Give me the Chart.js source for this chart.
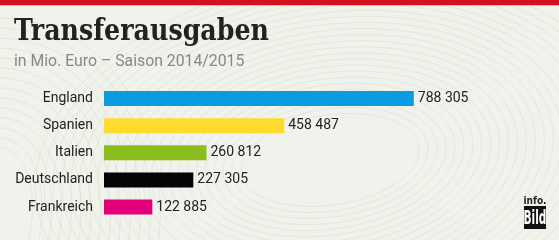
<!DOCTYPE html>
<html><head><meta charset="utf-8">
<script src="https://cdn.jsdelivr.net/npm/chart.js@4.4.1/dist/chart.umd.min.js"></script>
<style>
html,body{margin:0;padding:0;}
body{width:559px;height:240px;overflow:hidden;background:#f0f2ec;position:relative;font-family:Roboto,sans-serif;}
#topbar{position:absolute;left:0;top:0;width:559px;height:5px;background:#d7101d;border-bottom:1px solid #ecb7b5;}
#title{position:absolute;left:14px;top:13px;font-family:"DejaVu Serif Condensed","DejaVu Serif",serif;font-weight:bold;font-size:29px;color:#222;white-space:nowrap;transform-origin:0 0;}
#sub{position:absolute;left:14px;top:51px;font-family:Roboto,sans-serif;font-size:15.8px;color:#888;white-space:nowrap;}
#bg{position:absolute;left:0;top:0;}
#wrap{position:absolute;left:0;top:0;width:559px;height:240px;}
#logo{position:absolute;left:522px;top:195px;width:26px;}
#logo .i{font-family:"DejaVu Sans Condensed",sans-serif;font-weight:bold;font-size:10px;color:#222;line-height:11px;text-align:center;}
#logo .b{position:relative;margin-left:2px;width:22px;height:23px;background:#111;overflow:hidden;}
#logo .b span{position:absolute;left:50%;top:0;color:#fff;font-family:"DejaVu Sans Condensed",sans-serif;font-weight:bold;font-size:19px;line-height:23px;transform:translateX(-50%) scaleX(0.62);white-space:nowrap;}
</style></head>
<body>
<canvas id="bg" width="559" height="240"></canvas>
<div id="topbar"></div>
<div id="title">Transferausgaben</div>
<div id="sub">in Mio. Euro – Saison 2014/2015</div>
<div id="wrap"><canvas id="c" width="559" height="240"></canvas></div>
<div id="logo"><div class="i">info.</div><div class="b"><span>Bild</span></div></div>
<script>
const categories = ["England", "Spanien", "Italien", "Deutschland", "Frankreich"];
const values = [788305, 458487, 260812, 227305, 122885];
const valueLabels = ["788 305", "458 487", "260 812", "227 305", "122 885"];
const barColors = ["#0a9be0", "#ffdb2e", "#8cbd1e", "#050505", "#e2007a"];

// subtle contour background
(function(){
  const g = document.getElementById('bg').getContext('2d');
  g.strokeStyle = 'rgba(175,195,145,0.28)';
  g.lineWidth = 0.7;
  for (let i = 0; i < 24; i++) {
    g.beginPath();
    g.ellipse(330, 160, 90 + i * 9, 45 + i * 6, -0.15, 0, Math.PI * 2);
    g.stroke();
  }
  for (let i = 0; i < 14; i++) {
    g.beginPath();
    g.ellipse(-40, 260, 60 + i * 10, 120 + i * 10, 0.4, 0, Math.PI * 2);
    g.stroke();
  }
})();

// fit title width
(function(){
  const t = document.getElementById('title');
  const w = t.getBoundingClientRect().width;
  t.style.transform = 'scaleX(' + (255 / w) + ')';
})();

const valueLabelPlugin = {
  id: 'valueLabels',
  afterDatasetsDraw(chart) {
    const ctx = chart.ctx;
    const meta = chart.getDatasetMeta(0);
    ctx.save();
    ctx.font = '14px Roboto, sans-serif';
    ctx.fillStyle = '#222';
    ctx.textBaseline = 'middle';
    ctx.textAlign = 'left';
    meta.data.forEach((bar, i) => {
      ctx.fillText(valueLabels[i], bar.x + 4, bar.y);
    });
    ctx.restore();
  }
};

new Chart(document.getElementById('c'), {
  type: 'bar',
  data: {
    labels: categories,
    datasets: [{
      data: values,
      backgroundColor: barColors,
      borderWidth: 0,
      categoryPercentage: 1,
      barPercentage: 0.55
    }]
  },
  options: {
    indexAxis: 'y',
    responsive: false,
    animation: false,
    layout: { padding: { top: 85, bottom: 17, left: 0, right: 62 } },
    plugins: { legend: { display: false }, tooltip: { enabled: false } },
    scales: {
      x: { display: false, min: 0, max: 1000000 },
      y: {
        afterFit(scale) { scale.width = 104; },
        grid: { display: false, drawTicks: false },
        border: { display: false },
        ticks: { color: '#222', font: { size: 14, family: 'Roboto' }, padding: 11 }
      }
    }
  },
  plugins: [valueLabelPlugin]
});
</script>
</body></html>
